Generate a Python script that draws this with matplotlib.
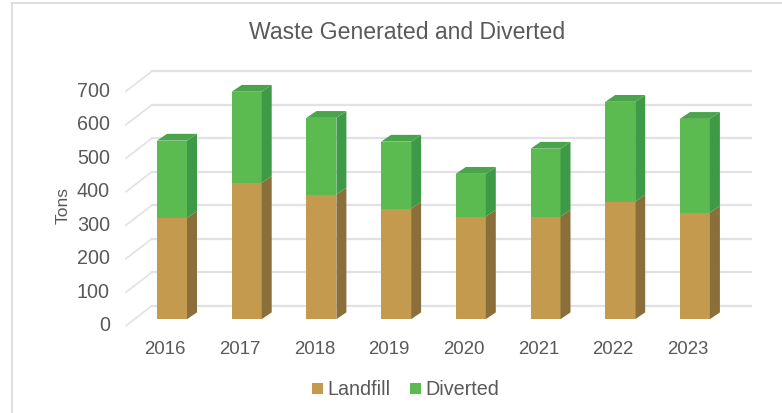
import matplotlib
matplotlib.use("Agg")
import matplotlib.pyplot as plt
import numpy as np

plt.rcParams['font.family'] = ['Liberation Sans', 'DejaVu Sans']

years = ["2016", "2017", "2018", "2019", "2020", "2021", "2022", "2023"]
landfill = np.array([302, 407, 372, 330, 306, 306, 351, 318])
totals = np.array([533, 679, 601, 530, 434, 509, 649, 598])
diverted = totals - landfill
y_ticks = [0, 100, 200, 300, 400, 500, 600, 700]

W, H = 782, 414
px_x = 74.7          # pixels per category
px_y = 0.335         # pixels per ton
x0, y0 = 172, 320.2  # pixel of first bar centre / zero line

# helpers to turn a pixel length into data units
def dx(p):
    return p / px_x

def dy(p):
    return p / px_y

fig = plt.figure(figsize=(W / 100, H / 100), dpi=100)
ax = fig.add_axes([0, 0, 1, 1])
ax.set_xlim(-x0 / px_x, (W - x0) / px_x)
ax.set_ylim(-(H - y0) / px_y, y0 / px_y)
ax.axis("off")

text_col = "#595959"
grid_col = "#e1e1e6"

# chart border
ax.plot([dx(11.5 - x0), dx(11.5 - x0)], [dy(y0 - H), dy(y0 - 3.7)], color="#d9d9d9", lw=1.2)
ax.plot([dx(11.5 - x0), dx(W - x0)], [dy(y0 - 3.7), dy(y0 - 3.7)], color="#d9d9d9", lw=1.2)

# walls
wall_x = dx(152 - x0)
wall_r = dx(751 - x0)
floor_x = dx(126 - x0)
back = dy(13.5)
drop = dy(20)
for t in y_ticks:
    ax.plot([wall_x, wall_r], [t + back, t + back], color=grid_col, lw=1.6, zorder=1)
    ax.plot([floor_x, wall_x], [t + back - drop, t + back], color=grid_col, lw=1.2, zorder=1)
    ax.text(dx(110 - x0), t - dy(5.5), str(t), ha="right", va="center", fontsize=14.2, color=text_col)

# bars
half = dx(15)
ox = dx(10)
oy = dy(6.8)
for i in range(len(years)):
    lf = landfill[i]
    top = lf + diverted[i]
    # landfill
    ax.fill([i - half, i + half, i + half, i - half], [0, 0, lf, lf], color="#c49a4e", lw=0, zorder=3)
    ax.fill([i + half, i + half + ox, i + half + ox, i + half], [0, oy, lf + oy, lf], color="#8a6f3a", lw=0, zorder=3)
    # diverted
    ax.fill([i - half, i + half, i + half, i - half], [lf, lf, top, top], color="#5bba50", lw=0, zorder=3)
    ax.fill([i + half, i + half + ox, i + half + ox, i + half], [lf, lf + oy, top + oy, top], color="#3f9a47", lw=0, zorder=3)
    ax.fill([i - half, i + half, i + half + ox, i - half + ox], [top, top, top + oy, top + oy], color="#4aa44b", lw=0, zorder=3)
    ax.text(i - dx(7), dy(y0 - 349), years[i], ha="center", va="center", fontsize=13.4, color=text_col)

# title and axis label
ax.text(dx(407 - x0), dy(y0 - 32), "Waste Generated and Diverted", ha="center", va="center", fontsize=16.6, color=text_col)
ax.text(dx(63.5 - x0), dy(y0 - 205), "Tons", ha="center", va="center", rotation=90, fontsize=12.5, color=text_col)

# legend
for px, col, name in [(312, "#c49a4e", "Landfill"), (410, "#5bba50", "Diverted")]:
    ax.fill(dx(np.array([px, px + 11, px + 11, px]) - x0),
            dy(y0 - np.array([394.5, 394.5, 383.5, 383.5])), color=col, lw=0)
    ax.text(dx(px + 15 - x0), dy(y0 - 390), name, ha="left", va="center", fontsize=14.2, color=text_col)

fig.savefig("out.png", dpi=100)
